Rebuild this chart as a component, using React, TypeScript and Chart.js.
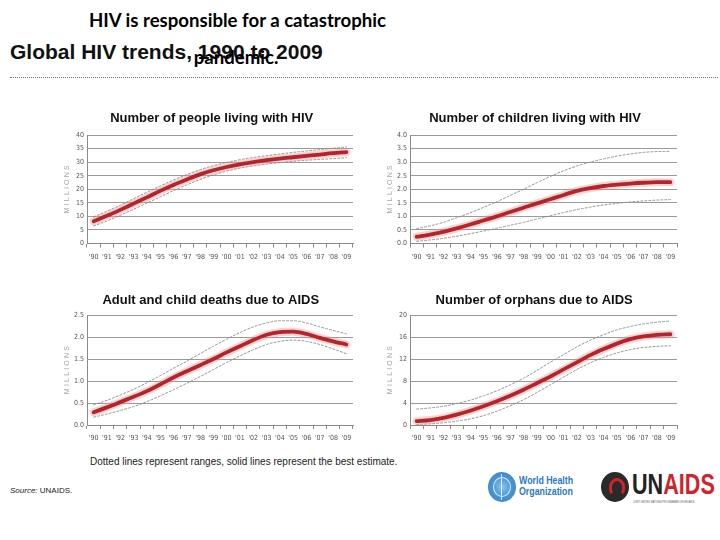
import React, { useEffect, useRef } from "react";
import { Chart, registerables } from "chart.js";

Chart.register(...registerables);

// ---------- data ----------
const years = ["'90", "'91", "'92", "'93", "'94", "'95", "'96", "'97", "'98", "'99", "'00", "'01", "'02", "'03", "'04", "'05", "'06", "'07", "'08", "'09"];

const peopleBest = [8.2, 10.2, 12.4, 14.7, 17.0, 19.4, 21.6, 23.6, 25.5, 27.0, 28.2, 29.2, 30.0, 30.7, 31.3, 31.8, 32.3, 32.8, 33.3, 33.7];
const peopleHigh = [9.8, 11.9, 14.1, 16.5, 18.9, 21.2, 23.4, 25.4, 27.2, 28.7, 29.9, 30.9, 31.7, 32.4, 33.0, 33.6, 34.1, 34.6, 35.1, 35.6];
const peopleLow = [6.5, 8.3, 10.4, 12.6, 14.9, 17.2, 19.5, 21.6, 23.6, 25.3, 26.7, 27.8, 28.6, 29.3, 29.8, 30.3, 30.7, 31.0, 31.3, 31.6];
const peopleTicks = [0, 5, 10, 15, 20, 25, 30, 35, 40];

const childrenBest = [0.25, 0.33, 0.43, 0.56, 0.70, 0.85, 1.00, 1.16, 1.32, 1.48, 1.63, 1.79, 1.94, 2.04, 2.12, 2.17, 2.21, 2.24, 2.26, 2.26];
const childrenHigh = [0.55, 0.65, 0.78, 0.95, 1.13, 1.33, 1.54, 1.77, 2.00, 2.24, 2.47, 2.68, 2.86, 3.00, 3.12, 3.22, 3.30, 3.36, 3.39, 3.40];
const childrenLow = [0.08, 0.13, 0.19, 0.27, 0.36, 0.46, 0.56, 0.67, 0.78, 0.90, 1.02, 1.14, 1.25, 1.34, 1.42, 1.48, 1.53, 1.57, 1.60, 1.62];
const childrenTicks = [0, 0.5, 1, 1.5, 2, 2.5, 3, 3.5, 4];

const deathsBest = [0.29, 0.40, 0.52, 0.64, 0.77, 0.92, 1.08, 1.22, 1.36, 1.50, 1.65, 1.79, 1.93, 2.05, 2.11, 2.12, 2.07, 1.98, 1.90, 1.83];
const deathsHigh = [0.46, 0.56, 0.68, 0.81, 0.96, 1.12, 1.29, 1.45, 1.62, 1.79, 1.95, 2.10, 2.23, 2.32, 2.37, 2.37, 2.32, 2.23, 2.15, 2.07];
const deathsLow = [0.18, 0.25, 0.33, 0.42, 0.53, 0.66, 0.80, 0.95, 1.10, 1.26, 1.42, 1.57, 1.71, 1.83, 1.90, 1.93, 1.90, 1.83, 1.73, 1.62];
const deathsTicks = [0, 0.5, 1, 1.5, 2, 2.5];

const orphansBest = [0.7, 0.9, 1.3, 1.9, 2.6, 3.4, 4.3, 5.3, 6.4, 7.6, 8.8, 10.1, 11.4, 12.7, 13.8, 14.8, 15.6, 16.1, 16.4, 16.5];
const orphansHigh = [2.9, 3.1, 3.4, 3.9, 4.5, 5.3, 6.2, 7.3, 8.5, 9.9, 11.4, 12.8, 14.2, 15.4, 16.4, 17.3, 17.9, 18.4, 18.7, 18.9];
const orphansLow = [0.1, 0.2, 0.4, 0.7, 1.1, 1.7, 2.5, 3.5, 4.6, 5.9, 7.3, 8.7, 10.1, 11.3, 12.3, 13.1, 13.7, 14.1, 14.3, 14.4];
const orphansTicks = [0, 4, 8, 12, 16, 20];

// ---------- styles ----------
const RED = "#b3252b";
const HALO = "rgba(232,150,150,0.42)";
const DASH = "#8a8a8a";
const TICK_FONT = '"Liberation Sans Narrow", "DejaVu Sans Condensed", "Liberation Sans", sans-serif';
const TITLE_FONT = '"Liberation Sans", Arial, sans-serif';

function millionsPlugin(xRel: number) {
  return {
    id: "millions",
    afterDraw(chart: any) {
      const { ctx, chartArea } = chart;
      ctx.save();
      ctx.translate(xRel, (chartArea.top + chartArea.bottom) / 2);
      ctx.rotate(-Math.PI / 2);
      try { (ctx as any).letterSpacing = "2.2px"; } catch (e) {}
      ctx.font = '7px "Liberation Sans", Arial, sans-serif';
      ctx.fillStyle = "#a5a5a5";
      ctx.textAlign = "center";
      ctx.textBaseline = "middle";
      ctx.fillText("MILLIONS", 1, 0);
      ctx.restore();
    },
  };
}

type PanelProps = {
  title: string;
  best: number[];
  high: number[];
  low: number[];
  ticks: number[];
  decimals: number;
  left: number;
  top: number;
  width: number;
  height: number;
  padL: number;
  padR: number;
  yW: number;
  tTop: number;
  tBot: number;
  xH: number;
  xPad: number;
  millionsX: number;
};

function Panel(p: PanelProps) {
  const ref = useRef<HTMLCanvasElement>(null);
  useEffect(() => {
    const line = (data: number[], color: string, width: number, dash: number[] = []) => ({
      data,
      borderColor: color,
      borderWidth: width,
      borderDash: dash,
      pointRadius: 0,
      fill: false,
      cubicInterpolationMode: "monotone" as const,
      borderCapStyle: "round" as const,
    });
    const chart = new Chart(ref.current as HTMLCanvasElement, {
      type: "line",
      data: {
        labels: years,
        datasets: [
          line(p.best, RED, 3.8),
          line(p.best, HALO, 8),
          line(p.high, DASH, 0.9, [2, 2]),
          line(p.low, DASH, 0.9, [2, 2]),
        ],
      },
      options: {
        responsive: false,
        animation: false,
        devicePixelRatio: 1,
        events: [],
        layout: { padding: { left: p.padL, right: p.padR, top: 0, bottom: 0 } },
        plugins: {
          legend: { display: false },
          tooltip: { enabled: false },
          title: {
            display: true,
            text: p.title,
            color: "#111",
            font: { family: TITLE_FONT, size: 13, weight: "bold" },
            padding: { top: p.tTop, bottom: p.tBot },
          },
        },
        scales: {
          x: {
            type: "category",
            offset: true,
            grid: { display: true, drawOnChartArea: false, drawTicks: true, tickLength: 4, offset: true, color: "#8a8a8a" },
            border: { display: true, color: "#8a8a8a" },
            ticks: {
              autoSkip: false,
              maxRotation: 0,
              minRotation: 0,
              padding: p.xPad,
              color: "#555",
              font: { family: TICK_FONT, size: 7 },
            },
            afterFit: (s: any) => {
              s.height = p.xH;
            },
          },
          y: {
            min: p.ticks[0],
            max: p.ticks[p.ticks.length - 1],
            grid: { color: "#9a9a9a", drawTicks: false },
            border: { display: true, color: "#8a8a8a" },
            ticks: {
              padding: 3,
              color: "#555",
              font: { family: TICK_FONT, size: 7 },
              callback: (v: any) => Number(v).toFixed(p.decimals),
            },
            afterBuildTicks: (s: any) => {
              s.ticks = p.ticks.map((v) => ({ value: v }));
            },
            afterFit: (s: any) => {
              s.width = p.yW;
            },
          },
        },
      } as any,
      plugins: [millionsPlugin(p.millionsX - p.left)],
    });
    return () => chart.destroy();
  }, []);
  return (
    <canvas
      ref={ref}
      width={p.width}
      height={p.height}
      style={{ position: "absolute", left: p.left, top: p.top, width: p.width, height: p.height }}
    />
  );
}

export default function App() {
  return (
    <div
      style={{
        position: "absolute",
        left: 0,
        top: 0,
        width: 720,
        height: 540,
        background: "#fff",
        overflow: "hidden",
        fontFamily: '"Liberation Sans", Arial, sans-serif',
      }}
    >
      <div
        style={{
          position: "absolute",
          left: 10,
          top: 40,
          lineHeight: "24px",
          fontSize: 21,
          fontWeight: "bold",
          color: "#111",
          whiteSpace: "nowrap",
        }}
      >
        Global HIV trends, 1990 to 2009
      </div>
      <div
        style={{
          position: "absolute",
          left: 0,
          width: 475,
          top: 9,
          lineHeight: "22px",
          textAlign: "center",
          fontFamily: 'Lato, "Open Sans", sans-serif',
          fontWeight: "bold",
          fontSize: 18.6,
          color: "#000",
          whiteSpace: "nowrap",
        }}
      >
        HIV is responsible for a catastrophic
      </div>
      <div
        style={{
          position: "absolute",
          left: 0,
          width: 472,
          top: 46,
          lineHeight: "22px",
          textAlign: "center",
          fontFamily: 'Lato, "Open Sans", sans-serif',
          fontWeight: "bold",
          fontSize: 18.6,
          color: "#000",
          whiteSpace: "nowrap",
        }}
      >
        pandemic.
      </div>
      <div style={{ position: "absolute", left: 10, top: 77, width: 708, borderTop: "1px dotted #777" }} />

      <Panel title="Number of people living with HIV" best={peopleBest} high={peopleHigh} low={peopleLow} ticks={peopleTicks} decimals={0}
        left={55} top={105} width={305} height={165} padL={15.4} padR={7} yW={16.6} tTop={5.5} tBot={8.9} xH={26.5} xPad={5} millionsX={67} />
      <Panel title="Number of children living with HIV" best={childrenBest} high={childrenHigh} low={childrenLow} ticks={childrenTicks} decimals={1}
        left={375} top={105} width={310} height={165} padL={18} padR={8} yW={17} tTop={5.5} tBot={8.9} xH={26.5} xPad={5} millionsX={390} />
      <Panel title="Adult and child deaths due to AIDS" best={deathsBest} high={deathsHigh} low={deathsLow} ticks={deathsTicks} decimals={1}
        left={55} top={285} width={305} height={165} padL={13.6} padR={7} yW={18.4} tTop={7.2} tBot={7.2} xH={25} xPad={4.5} millionsX={67} />
      <Panel title="Number of orphans due to AIDS" best={orphansBest} high={orphansHigh} low={orphansLow} ticks={orphansTicks} decimals={0}
        left={375} top={285} width={310} height={165} padL={16.4} padR={8} yW={18.6} tTop={7.2} tBot={7.2} xH={25} xPad={4.5} millionsX={390} />

      <div style={{ position: "absolute", left: 90, top: 456, fontSize: 10, lineHeight: "12px", color: "#222", whiteSpace: "nowrap" }}>
        Dotted lines represent ranges, solid lines represent the best estimate.
      </div>
      <div style={{ position: "absolute", left: 10, top: 486, fontSize: 8, lineHeight: "10px", color: "#222", whiteSpace: "nowrap" }}>
        <i>Source:</i> UNAIDS.
      </div>

      {/* WHO logo */}
      <div
        style={{
          position: "absolute",
          left: 488,
          top: 472,
          width: 28,
          height: 30,
          borderRadius: "50%",
          background: "radial-gradient(circle at 50% 50%, #8fc3ea 0, #4a98d6 45%, #2f7dc2 100%)",
        }}
      />
      <div
        style={{
          position: "absolute",
          left: 493,
          top: 477,
          width: 16,
          height: 18,
          borderRadius: "50%",
          border: "1px solid rgba(255,255,255,0.8)",
        }}
      />
      <div style={{ position: "absolute", left: 501, top: 474, width: 1, height: 26, background: "rgba(255,255,255,0.8)" }} />
      <div
        style={{
          position: "absolute",
          left: 519,
          top: 475,
          fontSize: 11,
          lineHeight: "11px",
          fontWeight: "bold",
          color: "#2a79c4",
          whiteSpace: "nowrap",
          transform: "scaleX(0.8)",
          transformOrigin: "left top",
        }}
      >
        World Health
        <br />
        Organization
      </div>

      {/* UNAIDS logo */}
      <div
        style={{
          position: "absolute",
          left: 601,
          top: 472,
          width: 28,
          height: 30,
          borderRadius: "50%",
          background: "#2a2a2a",
        }}
      />
      <div
        style={{
          position: "absolute",
          left: 609,
          top: 478,
          width: 10,
          height: 12,
          borderRadius: "50% 50% 40% 40%",
          border: "3px solid #d2232a",
          borderBottomColor: "transparent",
        }}
      />
      <div
        style={{
          position: "absolute",
          left: 632,
          top: 468,
          fontSize: 30,
          lineHeight: "32px",
          fontWeight: "bold",
          whiteSpace: "nowrap",
          transform: "scaleX(0.72)",
          transformOrigin: "left top",
        }}
      >
        <span style={{ color: "#222" }}>UN</span>
        <span style={{ color: "#d2232a" }}>AIDS</span>
      </div>
      <div
        style={{
          position: "absolute",
          left: 633,
          top: 500,
          fontSize: 4,
          lineHeight: "4px",
          color: "#555",
          whiteSpace: "nowrap",
          transform: "scaleX(0.62)",
          transformOrigin: "left top",
        }}
      >
        JOINT UNITED NATIONS PROGRAMME ON HIV/AIDS
      </div>
    </div>
  );
}
